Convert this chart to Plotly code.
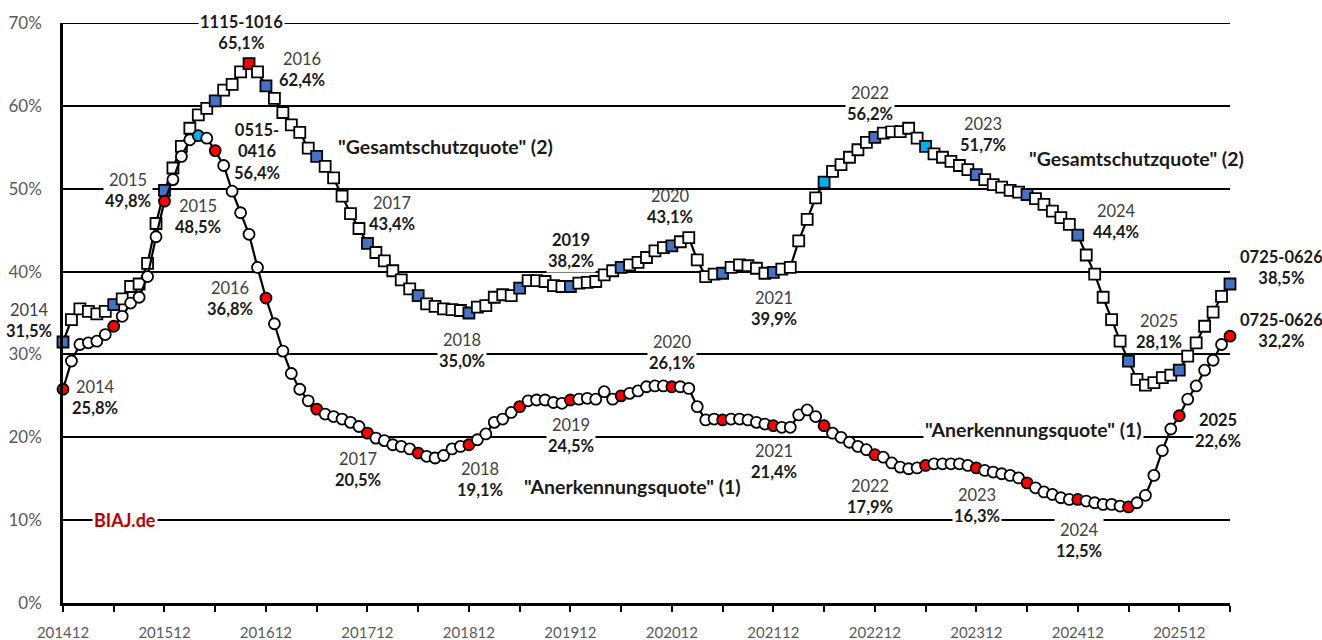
import plotly.graph_objects as go

# ---------------- data ----------------
months = [f"{2014 + (11 + k) // 12}{(11 + k) % 12 + 1:02d}" for k in range(139)]  # 201412 .. 202606

anerkennungsquote = [
    25.8, 29.2, 31.2, 31.4, 31.6, 32.4, 33.4, 34.6, 36.2, 36.9,
    39.4, 44.2, 48.5, 51.1, 53.9, 55.9, 56.4, 56.1, 54.6, 52.8,
    49.7, 47.1, 44.5, 40.5, 36.8, 33.7, 30.4, 27.7, 25.8, 24.4,
    23.4, 22.8, 22.5, 22.2, 21.8, 21.3, 20.5, 19.9, 19.6, 19.1,
    18.9, 18.6, 18.1, 17.7, 17.5, 17.8, 18.6, 18.9, 19.1, 19.7,
    20.4, 21.8, 22.2, 23.0, 23.7, 24.4, 24.5, 24.5, 24.2, 24.1,
    24.5, 24.6, 24.7, 24.6, 25.5, 24.6, 25.0, 25.3, 25.6, 26.1,
    26.2, 26.2, 26.1, 26.1, 25.9, 23.7, 22.1, 22.2, 22.1, 22.2,
    22.2, 22.1, 21.8, 21.6, 21.4, 21.2, 21.2, 22.7, 23.3, 22.5,
    21.4, 20.5, 20.0, 19.4, 18.9, 18.5, 17.9, 17.6, 16.9, 16.4,
    16.2, 16.3, 16.6, 16.8, 16.8, 16.8, 16.8, 16.6, 16.3, 16.0,
    15.8, 15.6, 15.4, 15.1, 14.5, 13.9, 13.4, 13.1, 12.7, 12.5,
    12.5, 12.3, 12.1, 11.9, 11.9, 11.7, 11.6, 12.1, 13.0, 15.4,
    18.4, 21.0, 22.6, 24.6, 26.2, 28.1, 29.3, 31.2, 32.2,
]

gesamtschutzquote = [
    31.5, 34.2, 35.5, 35.2, 34.9, 35.2, 36.0, 36.7, 38.2, 38.5,
    41.0, 45.8, 49.8, 52.5, 55.1, 57.3, 58.9, 59.7, 60.6, 61.9,
    62.6, 64.1, 65.1, 64.1, 62.4, 60.9, 59.2, 57.7, 56.8, 54.9,
    53.9, 52.7, 51.3, 49.1, 47.0, 45.2, 43.4, 42.3, 41.3, 40.1,
    39.0, 37.9, 37.1, 36.1, 35.8, 35.5, 35.4, 35.3, 35.0, 35.7,
    35.9, 36.9, 37.2, 37.1, 38.0, 38.9, 38.9, 38.8, 38.3, 38.2,
    38.2, 38.6, 38.7, 38.8, 39.6, 40.1, 40.5, 40.8, 41.1, 41.7,
    42.5, 42.9, 43.1, 43.6, 44.1, 41.4, 39.4, 39.7, 39.8, 40.5,
    40.8, 40.7, 40.4, 39.8, 39.9, 40.3, 40.5, 43.7, 46.3, 48.9,
    50.8, 52.1, 52.9, 53.8, 54.7, 55.6, 56.2, 56.7, 56.9, 56.9,
    57.3, 56.1, 55.1, 54.2, 53.8, 53.3, 52.8, 52.3, 51.7, 51.1,
    50.5, 50.2, 49.8, 49.6, 49.3, 48.8, 48.1, 47.3, 46.5, 45.7,
    44.4, 42.0, 39.7, 36.9, 34.2, 31.6, 29.2, 27.0, 26.3, 26.6,
    27.2, 27.5, 28.1, 29.8, 31.4, 33.4, 35.1, 37.0, 38.5,
]

tick_months = months[::6]
tick_labels = [m if m.endswith("12") else "" for m in tick_months]
y_ticks = [0, 10, 20, 30, 40, 50, 60, 70]
y_tick_labels = [f"{v}%" for v in y_ticks]

# ---------------- styles ----------------
FONT = "Lato"
DARK_BLUE = "#4472C4"
LIGHT_BLUE = "#00B0F0"
RED = "#FF0000"

circle_colors = [RED if i % 6 == 0 else "white" for i in range(len(months))]
circle_colors[16] = LIGHT_BLUE
square_colors = [DARK_BLUE if i % 6 == 0 else "white" for i in range(len(months))]
square_colors[22] = RED
square_colors[90] = LIGHT_BLUE
square_colors[102] = LIGHT_BLUE

fig = go.Figure()
fig.add_trace(go.Scatter(
    x=months, y=gesamtschutzquote, mode="lines+markers",
    line=dict(color="black", width=2.2),
    marker=dict(symbol="square", size=11, color=square_colors,
                line=dict(color="black", width=1.8)),
    cliponaxis=False, showlegend=False, name="Gesamtschutzquote",
))
fig.add_trace(go.Scatter(
    x=months, y=anerkennungsquote, mode="lines+markers",
    line=dict(color="black", width=2.2),
    marker=dict(symbol="circle", size=11, color=circle_colors,
                line=dict(color="black", width=1.8)),
    cliponaxis=False, showlegend=False, name="Anerkennungsquote",
))

# top gridline (70 %)
fig.add_shape(type="line", xref="paper", yref="y", x0=0, x1=1, y0=y_ticks[-1], y1=y_ticks[-1],
              line=dict(color="black", width=2), layer="below")

# ---------------- layout ----------------
L, R, T, B = 63, 1230, 23.3, 603.3


def px(xp, yp):
    return (xp - L) / (R - L), (B - yp) / (B - T)


def yv(year, value, bold_year=False):
    y = f"<b>{year}</b>" if bold_year else f'<span style="color:#404040">{year}</span>'
    return f"{y}<br><b>{value}</b>"


labels = [
    (241, 33, "<b>1115-1016</b><br><b>65,1%</b>", True, 16.5),
    (302, 69.5, yv("2016", "62,4%"), False, 16.5),
    (257, 151.5, "<b>0515-<br>0416<br>56,4%</b>", False, 16.5),
    (445, 147, '<b>"Gesamtschutzquote" (2)</b>', False, 19.5),
    (128, 191, yv("2015", "49,8%"), True, 16.5),
    (198, 217, yv("2015", "48,5%"), False, 16.5),
    (392, 213.5, yv("2017", "43,4%"), False, 16.5),
    (29, 321, yv("2014", "31,5%"), False, 16.5),
    (95, 398, yv("2014", "25,8%"), False, 16.5),
    (230, 299, yv("2016", "36,8%"), False, 16.5),
    (358, 470, yv("2017", "20,5%"), False, 16.5),
    (462, 351, yv("2018", "35,0%"), True, 16.5),
    (480, 479.5, yv("2018", "19,1%"), False, 16.5),
    (571, 251, yv("2019", "38,2%", True), True, 16.5),
    (571, 436, yv("2019", "24,5%"), True, 16.5),
    (670, 207, yv("2020", "43,1%"), False, 16.5),
    (672, 352.5, yv("2020", "26,1%"), True, 16.5),
    (774, 309, yv("2021", "39,9%"), False, 16.5),
    (774, 462, yv("2021", "21,4%"), False, 16.5),
    (870, 103.5, yv("2022", "56,2%"), True, 16.5),
    (870, 497, yv("2022", "17,9%"), False, 16.5),
    (983, 135, yv("2023", "51,7%"), False, 16.5),
    (1136, 159, '<b>"Gesamtschutzquote" (2)</b>', False, 19.5),
    (977, 506, yv("2023", "16,3%"), True, 16.5),
    (1116, 222, yv("2024", "44,4%"), False, 16.5),
    (1281, 267.5, "<b>0725-0626<br>38,5%</b>", False, 16.5),
    (1281, 331, "<b>0725-0626<br>32,2%</b>", False, 16.5),
    (1159, 331.5, yv("2025", "28,1%"), False, 16.5),
    (1033, 430, '<b>"Anerkennungsquote" (1)</b>', True, 19.5),
    (1218, 431, yv("2025", "22,6%", True), True, 16.5),
    (1079, 541, yv("2024", "12,5%"), True, 16.5),
    (632, 487, '<b>"Anerkennungsquote" (1)</b>', False, 19.5),
]

for xp, yp, text, bg, size in labels:
    xx, yy = px(xp, yp)
    fig.add_annotation(
        x=xx, y=yy, xref="paper", yref="paper", text=text, showarrow=False,
        xanchor="center", yanchor="middle", align="center",
        font=dict(family=FONT, size=size, color="#1a1a1a"),
        bgcolor="white" if bg else "rgba(0,0,0,0)", borderpad=1,
    )

bx, by = px(125, 520)
fig.add_annotation(
    x=bx, y=by, xref="paper", yref="paper", text="<b>BIAJ.de</b>", showarrow=False,
    xanchor="center", yanchor="middle",
    font=dict(family=FONT, size=18, color="#C00000"), bgcolor="white", borderpad=1,
)

fig.update_layout(
    width=1322, height=640,
    margin=dict(l=L, r=1322 - R, t=T, b=640 - B, autoexpand=False),
    paper_bgcolor="white", plot_bgcolor="white",
    font=dict(family=FONT, color="#595959"),
    xaxis=dict(
        type="category", range=[0, len(months) - 1], automargin=False,
        tickmode="array", tickvals=tick_months, ticktext=tick_labels,
        ticks="outside", ticklen=6, tickwidth=2, tickcolor="black",
        showline=True, linecolor="black", linewidth=2.5,
        showgrid=False, zeroline=False,
        tickfont=dict(family=FONT, size=15, color="#595959"),
        ticklabelstandoff=8,
    ),
    yaxis=dict(
        range=[0, 70], automargin=False,
        tickmode="array", tickvals=y_ticks, ticktext=y_tick_labels,
        showline=True, linecolor="black", linewidth=2.5,
        showgrid=True, gridcolor="black", gridwidth=2, zeroline=False,
        ticks="", tickfont=dict(family=FONT, size=17, color="#595959"),
        ticklabelstandoff=15,
    ),
)

fig.write_html("out.html", config={"displayModeBar": False},
               post_script="document.body.style.margin='0';")
